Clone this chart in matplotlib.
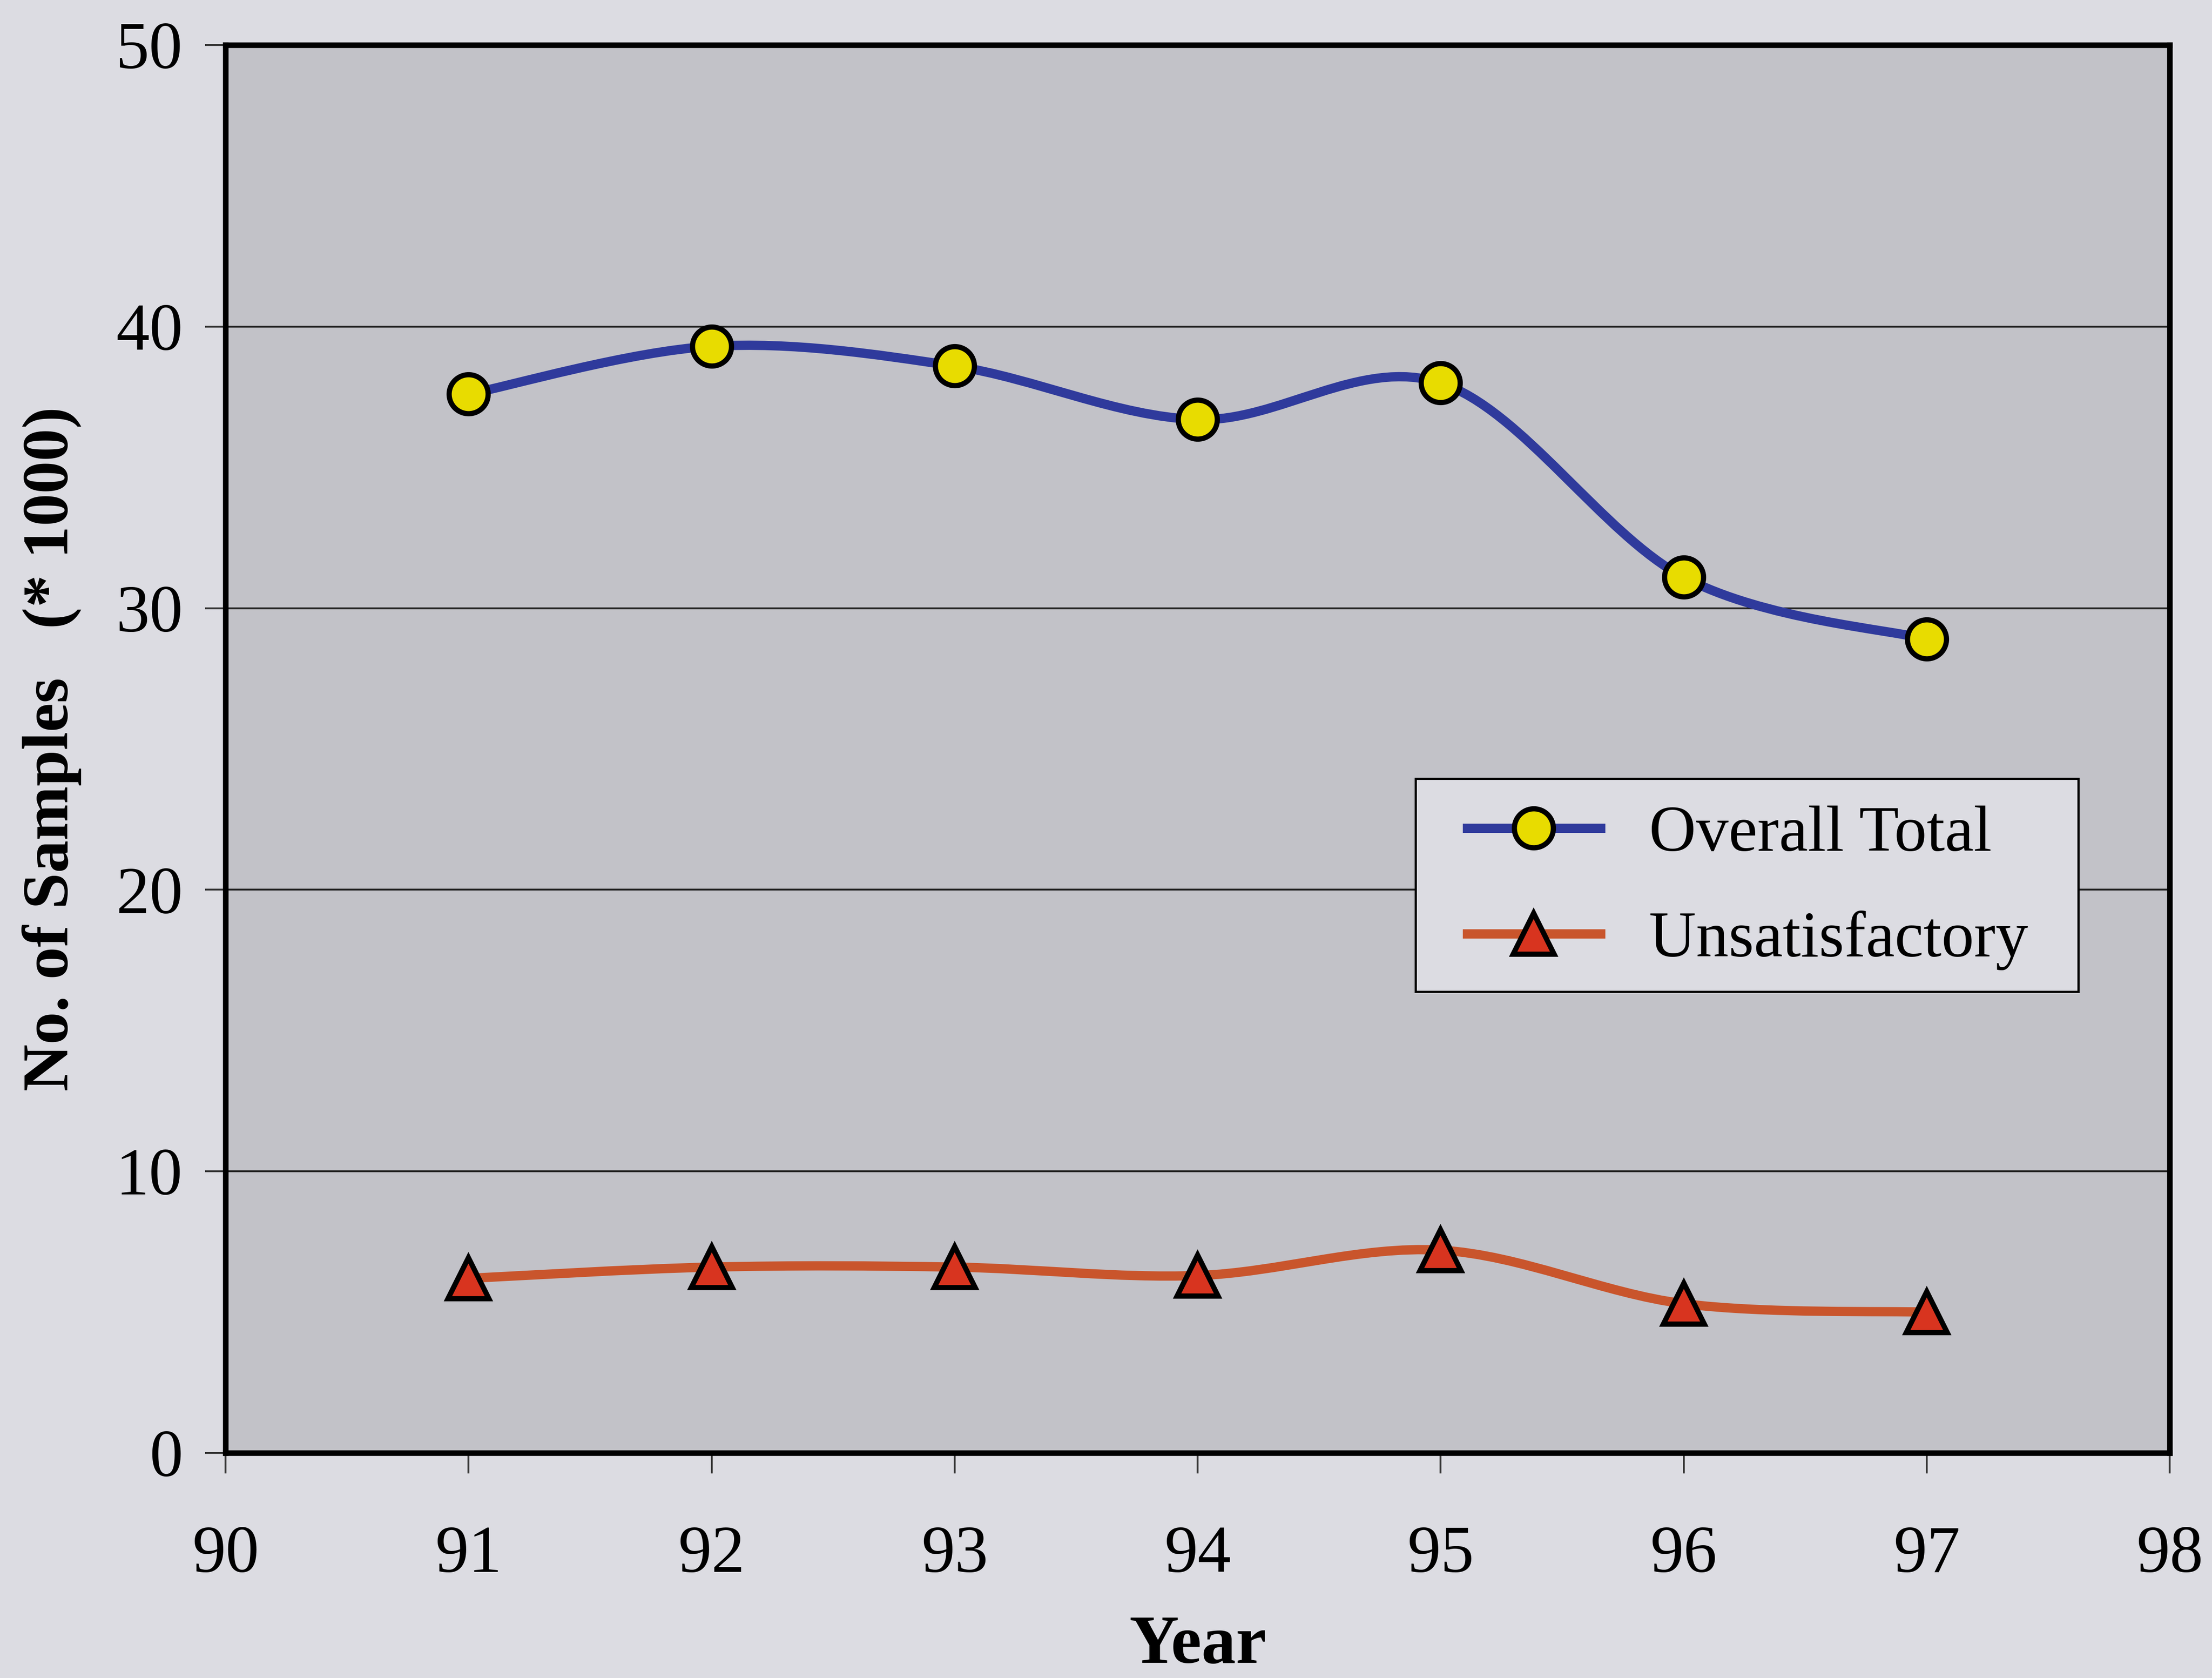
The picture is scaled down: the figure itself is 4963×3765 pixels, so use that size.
import numpy as np
import matplotlib
matplotlib.use("Agg")
import matplotlib.pyplot as plt
from matplotlib.path import Path
from matplotlib.patches import PathPatch, Rectangle
from matplotlib.lines import Line2D

# samples per year, in thousands
years = [91, 92, 93, 94, 95, 96, 97]
overall_total = [37.6, 39.3, 38.6, 36.7, 38.0, 31.1, 28.9]
unsatisfactory = [6.2, 6.6, 6.6, 6.3, 7.2, 5.3, 5.0]

x_ticks = [90, 91, 92, 93, 94, 95, 96, 97, 98]
y_ticks = [0, 10, 20, 30, 40, 50]

blue = "#2f3a9c"
orange = "#c9552c"
yellow = "#e8dc00"
red = "#d8341f"

plt.rcParams['font.family'] = ['Liberation Serif', 'DejaVu Serif']


def smooth_path(xs, ys):
    # spreadsheet-style smoothed line: cubic bezier through every point
    pts = np.column_stack([xs, ys]).astype(float)
    n = len(pts)
    verts = [pts[0]]
    codes = [Path.MOVETO]
    for i in range(n - 1):
        p0 = pts[max(i - 1, 0)]
        p1 = pts[i]
        p2 = pts[i + 1]
        p3 = pts[min(i + 2, n - 1)]
        verts += [p1 + (p2 - p0) / 6, p2 - (p3 - p1) / 6, p2]
        codes += [Path.CURVE4] * 3
    return Path(verts, codes)


fig = plt.figure(figsize=(4963 / 300, 3765 / 300), dpi=300, facecolor="#dcdce2")
ax = fig.add_axes([506 / 4963, 1 - 3260 / 3765, 4362 / 4963, 3159 / 3765])
ax.set_facecolor("#c2c2c8")

ax.set_xlim(90, 98)
ax.set_ylim(0, 50)
ax.set_xticks(x_ticks)
ax.set_yticks(y_ticks)
ax.yaxis.grid(True, color="#222222", lw=1.0)
ax.set_axisbelow(True)

for sp in ax.spines.values():
    sp.set_linewidth(3)
    sp.set_color("black")

ax.tick_params(axis='both', direction='out', length=11, width=1.0,
               labelsize=36, color="#333333")
ax.tick_params(axis='y', pad=12)
ax.tick_params(axis='x', pad=28)

line_w = 5
ax.add_patch(PathPatch(smooth_path(years, overall_total), fill=False,
                       edgecolor=blue, lw=line_w, capstyle='round', zorder=3))
ax.add_patch(PathPatch(smooth_path(years, unsatisfactory), fill=False,
                       edgecolor=orange, lw=line_w, capstyle='round', zorder=3))

ax.plot(years, overall_total, linestyle='none', marker='o', ms=21,
        mfc=yellow, mec='black', mew=2.8, zorder=4, clip_on=False)
ax.plot(years, unsatisfactory, linestyle='none', marker='^', ms=22,
        mfc=red, mec='black', mew=2.8, zorder=4, clip_on=False)

ax.set_xlabel("Year", fontsize=37, fontweight='bold')
ax.xaxis.set_label_coords(0.5, -0.115)
ax.set_ylabel("No. of Samples   (* 1000)", fontsize=35, fontweight='bold')
ax.yaxis.set_label_coords(-0.074, 0.5)

# legend box drawn separately so its padding can be set freely
ax.add_patch(Rectangle((0.612, 0.3276), 0.341, 0.1514, transform=ax.transAxes,
                       facecolor="#dcdce2", edgecolor="black", lw=1.2,
                       zorder=4.5))

handles = [
    Line2D([], [], color=blue, lw=line_w, marker='o', ms=21, mfc=yellow,
           mec='black', mew=2.8),
    Line2D([], [], color=orange, lw=line_w, marker='^', ms=22, mfc=red,
           mec='black', mew=2.8),
]
ax.legend(handles, ["Overall Total", "Unsatisfactory"],
          loc='upper left', bbox_to_anchor=(0.6387, 0.460),
          fontsize=35, numpoints=1, handlelength=2.05,
          handletextpad=0.75, borderpad=0, labelspacing=0.71,
          frameon=False, borderaxespad=0)

plt.savefig("out.png", dpi=300, facecolor=fig.get_facecolor())
